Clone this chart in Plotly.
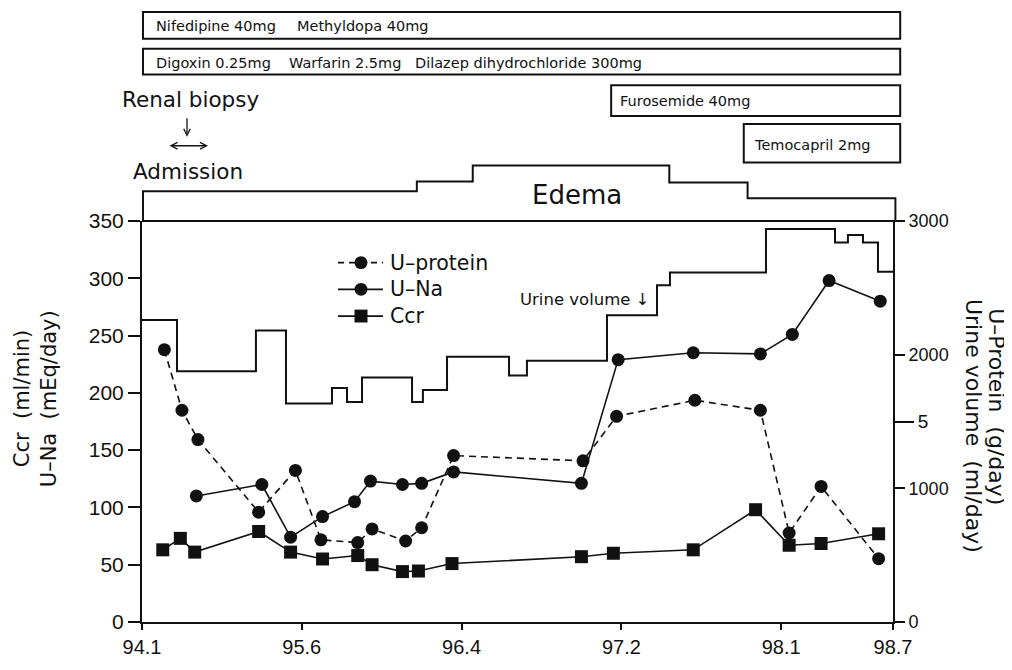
import plotly.graph_objects as go

# ---------------- data ----------------
x_tickvals = [0, 1, 2, 3, 4, 4.7]
x_ticklabels = ["94.1", "95.6", "96.4", "97.2", "98.1", "98.7"]

# U-protein (g/day) – right inner scale
upro_x = [0.14, 0.25, 0.35, 0.73, 0.96, 1.12, 1.35, 1.44, 1.65, 1.75, 1.95,
          2.76, 2.97, 3.46, 3.87, 4.05, 4.25, 4.61]
upro_g = [6.79, 5.28, 4.55, 2.74, 3.78, 2.05, 1.98, 2.32, 2.02, 2.35, 4.15,
          4.02, 5.13, 5.53, 5.28, 2.22, 3.38, 1.58]

# U-Na (mEq/day) – left scale
una_x = [0.34, 0.75, 0.93, 1.13, 1.33, 1.43, 1.63, 1.75, 1.95, 2.75, 2.98,
         3.45, 3.87, 4.07, 4.30, 4.62]
una_val = [110, 120, 74, 92, 105, 123, 120, 121, 131, 121, 229,
           235, 234, 251, 298, 280]

# Ccr (ml/min) – left scale
ccr_x = [0.13, 0.24, 0.33, 0.73, 0.93, 1.13, 1.35, 1.44, 1.63, 1.73, 1.94,
         2.75, 2.95, 3.45, 3.84, 4.05, 4.25, 4.61]
ccr_val = [63, 73, 61, 79, 61, 55, 58, 50, 44, 44.5, 51,
           57, 60, 63, 98, 67, 68.5, 77]

# Urine volume (ml/day) – right outer scale, step line
urine_x = [0, 0.219, 0.713, 0.901, 1.189, 1.283, 1.377, 1.690, 1.758, 1.909,
           2.297, 2.409, 2.910, 3.223, 3.304, 3.905, 4.337, 4.418, 4.512, 4.606, 4.7]
urine_ml = [2260, 1875, 2180, 1635, 1750, 1645, 1830, 1645, 1735, 1985,
            1845, 1955, 2295, 2520, 2615, 2940, 2840, 2895, 2840, 2620, 2620]

# Medication periods (x units) and their text items
drug_start = [0, 0, 2.93, 3.76]
drug_end = [4.745, 4.745, 4.745, 4.745]
drug_items = [["Nifedipine 40mg", "Methyldopa 40mg"],
              ["Digoxin 0.25mg", "Warfarin 2.5mg", "Dilazep dihydrochloride 300mg"],
              ["Furosemide 40mg"],
              ["Temocapril 2mg"]]

# Edema degree (step outline, x units)
edema_x = [0, 1.72, 2.07, 3.30, 3.79, 4.715]

legend_names = ["U–protein", "U–Na", "Ccr"]

X_MAX = 4.7
FONT_W = "DejaVu Sans, Verdana, sans-serif"
FONT_N = "Liberation Sans, Arial, sans-serif"
INK = "#111111"

# ---------------- layout geometry (reference pixels) ----------------
PL, PR, PT, PB = 142, 893, 221, 626   # plot area in page pixels
OFF = 8                               # body margin of the html page


def xp(px):
    return (px - PL) / (PR - PL)


def yp(py):
    return (PB - py) / (PB - PT)


def ux(u):
    return u / X_MAX


drug_box_y = [(10, 37), (47, 73), (84, 115), (123, 162)]
drug_text_y = [24, 61, 100, 144]
drug_text_x = [[154, 295], [154, 287, 413], [618], [752]]
edema_top_px = [191, 181, 165, 182, 198]

fig = go.Figure()

fig.add_trace(go.Scatter(
    x=urine_x, y=urine_ml, yaxis="y2", mode="lines",
    line=dict(color=INK, width=2, shape="hv"), showlegend=False, hoverinfo="skip"))

fig.add_trace(go.Scatter(
    x=upro_x, y=upro_g, yaxis="y3", mode="lines+markers", name=legend_names[0],
    line=dict(color=INK, width=1.6, dash="7px,5px"),
    marker=dict(symbol="circle", size=13, color=INK), showlegend=False))

fig.add_trace(go.Scatter(
    x=una_x, y=una_val, yaxis="y", mode="lines+markers", name=legend_names[1],
    line=dict(color=INK, width=1.6),
    marker=dict(symbol="circle", size=13, color=INK), showlegend=False))

fig.add_trace(go.Scatter(
    x=ccr_x, y=ccr_val, yaxis="y", mode="lines+markers", name=legend_names[2],
    line=dict(color=INK, width=1.6),
    marker=dict(symbol="square", size=13, color=INK), showlegend=False))

shapes = []
annotations = []

# drug boxes and texts
for s, e, (y0, y1), items, tx, ty in zip(drug_start, drug_end, drug_box_y,
                                         drug_items, drug_text_x, drug_text_y):
    shapes.append(dict(type="rect", xref="paper", yref="paper",
                       x0=ux(s) + 0.0013, x1=ux(e), y0=yp(y1), y1=yp(y0),
                       line=dict(color=INK, width=2), fillcolor="rgba(0,0,0,0)"))
    for t, x in zip(items, tx):
        annotations.append(dict(text=t, xref="paper", yref="paper", x=xp(x), y=yp(ty),
                                xanchor="left", yanchor="middle", showarrow=False,
                                font=dict(family=FONT_W, size=14.5, color=INK)))

# edema outline
path = f"M {ux(edema_x[0]) + 0.0013} 1"
for i, lvl in enumerate(edema_top_px):
    xa = ux(edema_x[i]) + (0.0013 if i == 0 else 0)
    xb = ux(edema_x[i + 1])
    path += f" L {xa} {yp(lvl)} L {xb} {yp(lvl)}"
path += f" L {ux(edema_x[-1])} 1"
shapes.append(dict(type="path", xref="paper", yref="paper", path=path,
                   line=dict(color=INK, width=2)))
# 350 / 3000 top line
shapes.append(dict(type="line", xref="paper", yref="paper", x0=0, x1=xp(905),
                   y0=1, y1=1, line=dict(color=INK, width=2)))

# manual legend
leg_rows = [263, 290, 317]
leg_x0, leg_x1, leg_mx, leg_tx = 338, 383, 361, 388
for i, (name, ry) in enumerate(zip(legend_names, leg_rows)):
    dash = "6px,5px" if i == 0 else "solid"
    shapes.append(dict(type="line", xref="paper", yref="paper",
                       x0=xp(leg_x0), x1=xp(leg_x1), y0=yp(ry), y1=yp(ry),
                       line=dict(color=INK, width=1.8, dash=dash)))
    r = 6.5
    shapes.append(dict(type="circle" if i < 2 else "rect", xref="paper", yref="paper",
                       x0=xp(leg_mx - r), x1=xp(leg_mx + r), y0=yp(ry + r), y1=yp(ry - r),
                       line=dict(color=INK, width=0), fillcolor=INK))
    annotations.append(dict(text=name, xref="paper", yref="paper", x=xp(leg_tx), y=yp(ry),
                            xanchor="left", yanchor="middle", showarrow=False,
                            font=dict(family=FONT_W, size=20.5, color=INK)))

# arrows
annotations.append(dict(xref="paper", yref="paper", x=xp(187), y=yp(136), text="",
                        showarrow=True, ax=0, ay=-20, arrowhead=5, arrowsize=1,
                        arrowwidth=1.3, arrowcolor=INK))
annotations.append(dict(xref="paper", yref="paper", x=xp(208), y=yp(145), text="",
                        showarrow=True, ax=-40, ay=0, arrowhead=5, startarrowhead=5,
                        arrowside="end+start", arrowsize=1, startarrowsize=1,
                        arrowwidth=1.3, arrowcolor=INK))

texts = [
    dict(text="Renal biopsy", x=xp(190), y=yp(98), font=dict(size=21.5)),
    dict(text="Admission", x=xp(188), y=yp(171), font=dict(size=21.5)),
    dict(text="Edema", x=xp(577), y=yp(195), font=dict(size=26)),
    dict(text="Urine volume ↓", x=xp(652), y=yp(300), xanchor="right", font=dict(size=16.5)),
    dict(text="Ccr  (ml/min)", x=xp(22), y=yp(400), textangle=-90, font=dict(size=21)),
    dict(text="U–Na  (mEq/day)", x=xp(49), y=yp(401), textangle=-90, font=dict(size=21)),
    dict(text="U–Protein  (g/day)", x=xp(997), y=yp(408), textangle=90, font=dict(size=22)),
    dict(text="Urine volume  (ml/day)", x=xp(973), y=yp(428), textangle=90, font=dict(size=22)),
]
for a in texts:
    a.setdefault("xref", "paper")
    a.setdefault("yref", "paper")
    a.setdefault("showarrow", False)
    a.setdefault("xanchor", "center")
    a.setdefault("yanchor", "middle")
    a["font"].setdefault("family", FONT_W)
    a["font"].setdefault("color", INK)
annotations += texts

axis_common = dict(showgrid=False, zeroline=False, ticks="outside", tickwidth=2,
                   tickcolor=INK, linecolor=INK, linewidth=2)

W, H = 1012 - OFF, 670 - OFF
fig.update_layout(
    width=W, height=H,
    margin=dict(l=PL - OFF, r=W - (PR - OFF), t=PT - OFF, b=H - (PB - OFF)),
    paper_bgcolor="white", plot_bgcolor="white",
    font=dict(family=FONT_N, color=INK),
    showlegend=False,
    xaxis=dict(range=[0, X_MAX], tickvals=x_tickvals, ticktext=x_ticklabels,
               showline=True, ticklen=6, tickfont=dict(size=20), **axis_common),
    yaxis=dict(range=[0, 350], tickvals=list(range(0, 351, 50)), showline=True,
               ticklen=12, tickfont=dict(size=21), **axis_common),
    yaxis2=dict(range=[0, 3000], tickvals=[0, 1000, 2000, 3000], overlaying="y",
                side="right", anchor="x", showline=True, ticklen=10,
                tickfont=dict(size=18), **axis_common),
    yaxis3=dict(range=[0, 10], tickvals=[5], overlaying="y", side="right", anchor="x",
                showline=False, ticklen=20, tickfont=dict(size=19), **axis_common),
    shapes=shapes, annotations=annotations,
)

fig.write_html("out.html")
